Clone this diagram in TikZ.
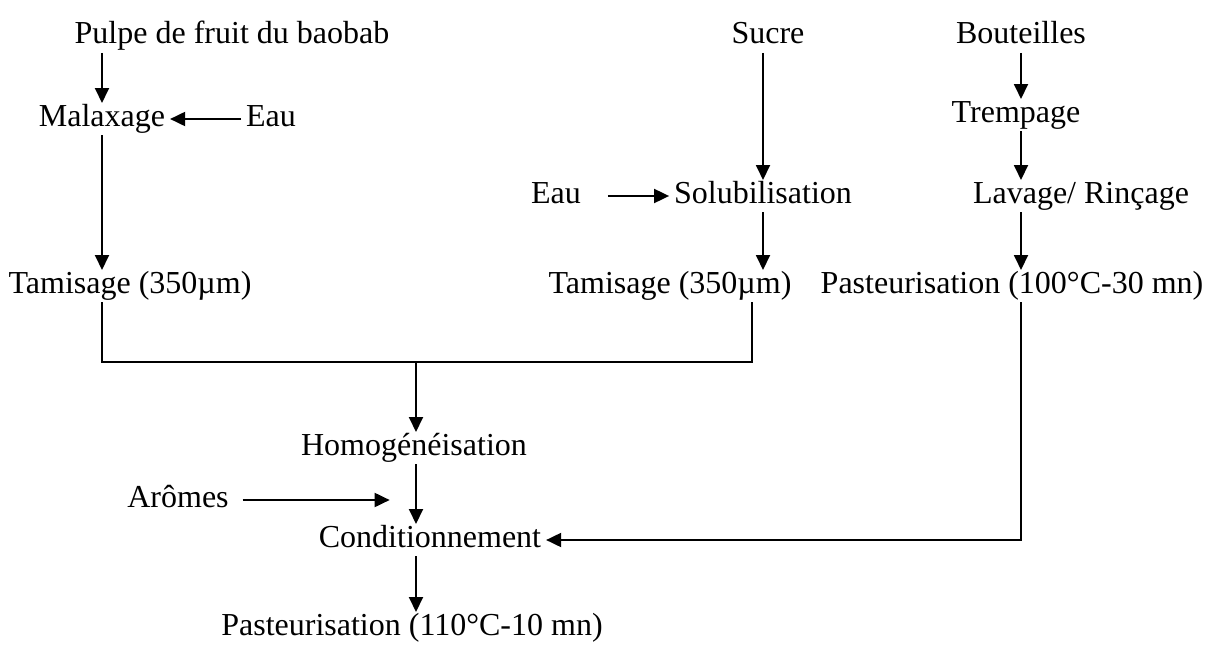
\documentclass[tikz,border=0pt]{standalone}
\usepackage{fontspec}
\setmainfont{Liberation Serif}
\usetikzlibrary{arrows.meta}

\begin{document}
\begin{tikzpicture}[
  x=1pt, y=-1pt,
  font=\fontsize{32}{38}\selectfont,
  stepnode/.style={anchor=base, inner sep=0pt, text height=22pt, text depth=8pt,
    outer xsep=5pt, outer ysep=1pt},
  arrow/.style={-{Triangle[length=15pt,width=14pt]}, line width=1.9pt},
  link/.style={line width=1.4pt}
]
\useasboundingbox (0,0) rectangle (1225,661);

% Pulp branch: kneading with water, then sieving.
\node[stepnode] (pulpe) at (232,44) {Pulpe de fruit du baobab};
\node[stepnode] (malax) at (102,126) {Malaxage};
\node[stepnode] (eaua) at (271,126) {Eau};
\node[stepnode] (tama) at (130,293) {Tamisage (350µm)};
\draw[arrow] (pulpe.south -| malax) -- (malax.north);
\draw[arrow] (eaua.west) -- (malax.east);
\draw[arrow] (malax.south) -- (tama.north -| malax);

% Sugar branch: dissolved in water, then sieved.
\node[stepnode] (sucre) at (768,44) {Sucre};
\node[stepnode] (solub) at (763,203) {Solubilisation};
\node[stepnode] (eaub) at (556,203) {Eau};
\node[stepnode] (tamb) at (670,293) {Tamisage (350µm)};
\draw[arrow] (sucre.south -| solub) -- (solub.north);
\draw[arrow, shorten <=22pt] (eaub.east) -- (solub.west);
\draw[arrow] (solub.south) -- (solub.south |- tamb.north);

% Bottles: soaking, washing, pasteurisation.
\node[stepnode] (bout) at (1021,44) {Bouteilles};
\node[stepnode] (tremp) at (1016,122) {Trempage};
\node[stepnode] (lavage) at (1081,203) {Lavage/ Rinçage};
\node[stepnode] (pasta) at (1012,293) {Pasteurisation (100°C-30 mn)};
\draw[arrow] (bout.south) -- (tremp.north -| bout);
\draw[arrow] (tremp.south -| bout) -- (lavage.north -| bout);
\draw[arrow] (lavage.south -| bout) -- (pasta.north -| bout);

% Both sieved liquids are mixed, flavoured and bottled.
\coordinate (merge) at (416,362);
\node[stepnode] (homog) at (414,455) {Homogénéisation};
\node[stepnode] (aromes) at (178,507) {Arômes};
\node[stepnode] (cond) at (430,547) {Conditionnement};
\node[stepnode] (pastb) at (412,635) {Pasteurisation (110°C-10 mn)};
\coordinate (aromesto) at ([xshift=156pt]aromes.east);
\draw[link] (tama.south -| malax) |- (merge) -| ([xshift=82pt]tamb.south);
\draw[arrow] (merge) -- (merge |- homog.north);
\draw[arrow] (homog.south -| merge) -- (cond.north -| merge);
\draw[arrow, shorten <=9pt] (aromes.east) -- (aromesto);
\draw[arrow] (cond.south -| merge) -- (pastb.north -| merge);
\draw[arrow] (pasta.south -| bout) |- (cond.east);
\end{tikzpicture}
\end{document}
